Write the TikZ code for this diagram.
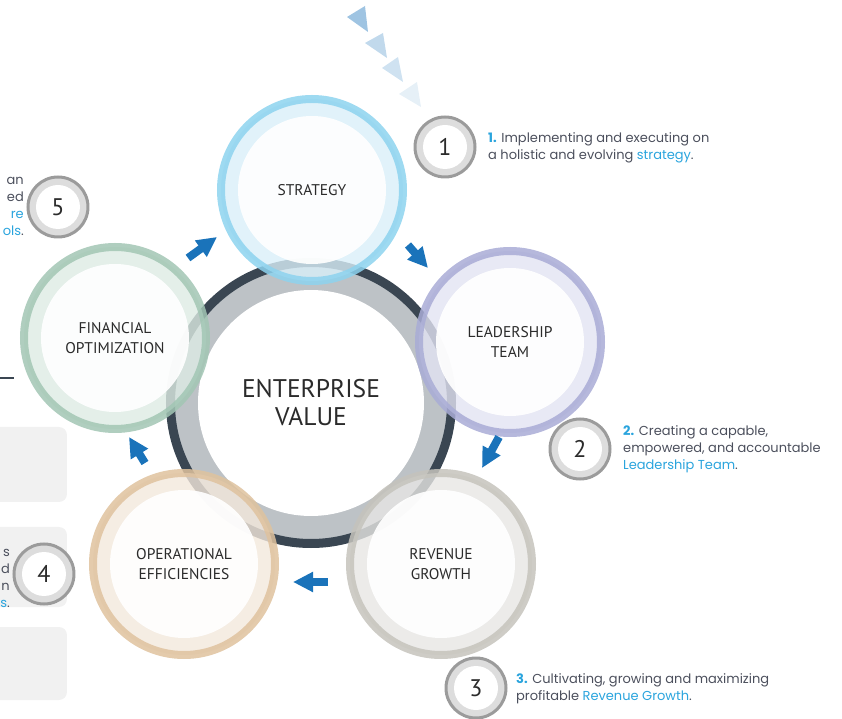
\documentclass[tikz,border=0pt]{standalone}
\usepackage{fontspec}
\setmainfont{PT Sans}
\newfontfamily\descfont{Poppins}
\usetikzlibrary{arrows.meta}

\definecolor{strokeS}{HTML}{8DD3EF}\definecolor{bandS}{HTML}{D9EFF9}
\definecolor{strokeL}{HTML}{A9ACD6}\definecolor{bandL}{HTML}{E2E3F2}
\definecolor{strokeR}{HTML}{C5C3BC}\definecolor{bandR}{HTML}{E7E6E4}
\definecolor{strokeO}{HTML}{DFC29E}\definecolor{bandO}{HTML}{F3E8DC}
\definecolor{strokeF}{HTML}{A2C6B4}\definecolor{bandF}{HTML}{DDEBE4}
\definecolor{ringdark}{HTML}{3A4652}
\definecolor{ringgray}{HTML}{BDC2C6}
\definecolor{flowblue}{HTML}{1A73BA}
\definecolor{txtblue}{HTML}{2AA4DD}
\definecolor{txtgray}{HTML}{4B4F5C}
\definecolor{txtdark}{HTML}{2B2B2B}
\definecolor{badgeline}{HTML}{9B9B9B}
\definecolor{badgeband}{HTML}{DDDDDD}
\definecolor{panel}{HTML}{F1F1F1}

\begin{document}
\begin{tikzpicture}[>={Triangle[length=20pt,width=19pt]}, x=1pt, y=1pt]

\tikzstyle{sat}=[circle, minimum size=182pt, inner sep=0pt, line width=8pt, draw opacity=0.85, fill opacity=0.8, text opacity=1, align=center, text=txtdark, font=\fontsize{15.5}{20}\selectfont, path picture={\fill[white, fill opacity=0.92] (path picture bounding box.center) circle (74pt);}]
\tikzstyle{badge}=[circle, minimum size=60pt, inner sep=0pt, line width=3pt, draw=badgeline, fill=badgeband, text=txtdark, font=\fontsize{24}{24}\selectfont, path picture={\fill[white] (path picture bounding box.center) circle (22pt);}]
\tikzstyle{desc}=[anchor=west, align=left, inner sep=0pt, text=txtgray, font=\descfont\fontsize{13}{17}\selectfont]
\tikzstyle{flow}=[->, line width=8pt, flowblue]

\useasboundingbox (-311,-316) rectangle (531,403);
\clip (-311,-316) rectangle (531,403);

% --- left side panels ---
\fill[panel, rounded corners=8pt] (-330,-24) rectangle (-244,-99);
\fill[panel, rounded corners=8pt] (-330,-124) rectangle (-244,-204);
\fill[panel, rounded corners=8pt] (-330,-224) rectangle (-244,-297);
\draw[line width=2pt, ringdark] (-311,25) -- (-297,25);

% --- top: fading triangles ---
\fill[fill=flowblue!42] (36,386) -- (54,397) -- (57,371) -- cycle;
\fill[fill=flowblue!27] (54,360) -- (72,370) -- (76,345) -- cycle;
\fill[fill=flowblue!21] (71,335) -- (87,346) -- (92,321) -- cycle;
\fill[fill=flowblue!11] (88,309) -- (106,321) -- (110,296) -- cycle;

% --- centre: enterprise value ---
\node[circle, minimum size=281pt, inner sep=0pt, line width=9pt, draw=ringdark, fill=ringgray, align=center, text=txtdark, font=\fontsize{25.5}{28}\selectfont, path picture={\fill[white] (path picture bounding box.center) circle (113pt);}] (ev) at (0,0) {ENTERPRISE\\VALUE};

% --- the five drivers ---
\node[sat, draw=strokeS, fill=bandS] (strat) at (1,213) {STRATEGY};
\node[sat, draw=strokeL, fill=bandL] (lead) at (199,61) {LEADERSHIP\\TEAM};
\node[sat, draw=strokeR, fill=bandR] (rev) at (130,-161) {REVENUE\\GROWTH};
\node[sat, draw=strokeO, fill=bandO] (ops) at (-127,-161) {OPERATIONAL\\EFFICIENCIES};
\node[sat, draw=strokeF, fill=bandF] (fin) at (-196,65) {FINANCIAL\\OPTIMIZATION};

% --- arrows = cycle ---
\coordinate (a1s) at (-123,145); \coordinate (a1e) at (-94,166);
\coordinate (a2s) at (97,158);   \coordinate (a2e) at (117,135);
\coordinate (a3s) at (188,-34);  \coordinate (a3e) at (171,-65);
\coordinate (a4s) at (17,-179);  \coordinate (a4e) at (-18,-179);
\coordinate (a5s) at (-166,-60); \coordinate (a5e) at (-182,-34);
\draw[flow] (a1s) -- (a1e);
\draw[flow] (a2s) -- (a2e);
\draw[flow] (a3s) -- (a3e);
\draw[flow] (a4s) -- (a4e);
\draw[flow] (a5s) -- (a5e);

% --- numbered badges ---
\node[badge] (b1) at (134,256) {1};
\node[badge] (b2) at (269,-46) {2};
\node[badge] (b3) at (165,-285) {3};
\node[badge] (b4) at (-267,-171) {4};
\node[badge] (b5) at (-253,196) {5};

% --- descriptions ---
\node[desc] (d1) at (177,255) {\textcolor{txtblue}{\textbf{1.}} Implementing and executing on\\a holistic and evolving \textcolor{txtblue}{strategy}.};
\node[desc] (d2) at (312,-46) {\textcolor{txtblue}{\textbf{2.}} Creating a capable,\\empowered, and accountable\\\textcolor{txtblue}{Leadership Team}.};
\node[desc] (d3) at (205,-286) {\textcolor{txtblue}{\textbf{3.}} Cultivating, growing and maximizing\\profitable \textcolor{txtblue}{Revenue Growth}.};
\node[desc, anchor=east, align=right] (d5) at (-287,197) {an\\ed\\\textcolor{txtblue}{re}\\\textcolor{txtblue}{ols}.};
\node[desc, anchor=east, align=right] (d4) at (-301,-175) {s\\d\\n\\\textcolor{txtblue}{s}.};

\end{tikzpicture}
\end{document}
